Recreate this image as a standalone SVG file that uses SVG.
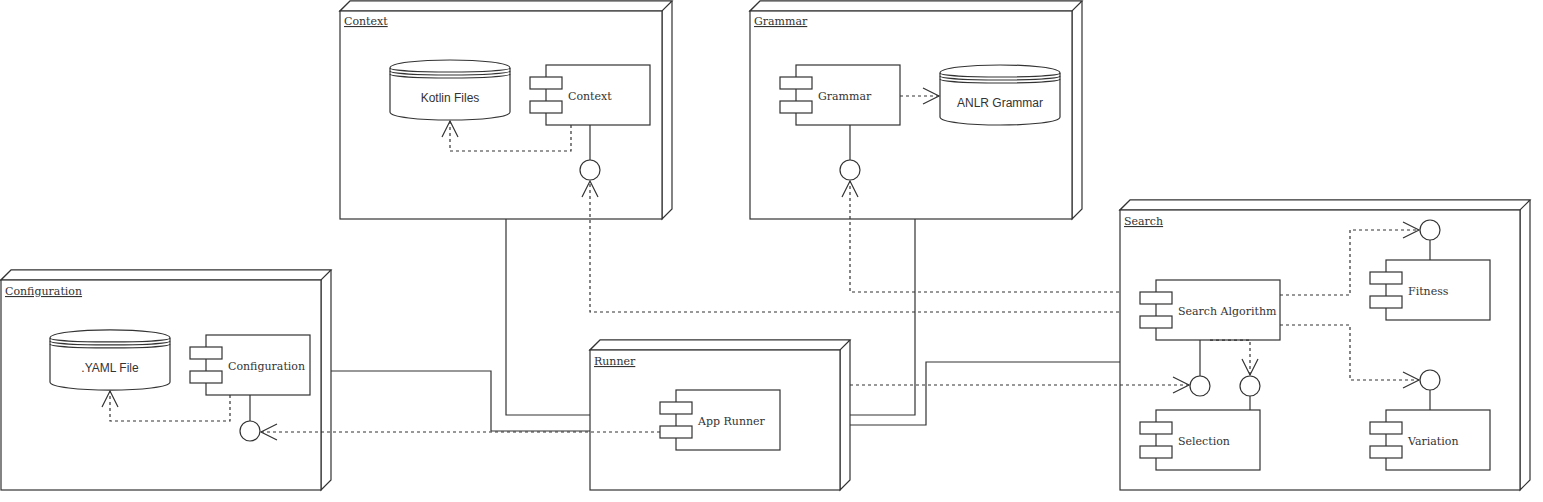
<svg xmlns="http://www.w3.org/2000/svg" width="1543" height="502" viewBox="0 0 1543 502">
<style>
.nd{fill:#fff;stroke:#333;stroke-width:1.2}
.sh{fill:#fff;stroke:#333;stroke-width:1.2}
.ttl{font-family:"DejaVu Serif",serif;font-size:11px;fill:#333;text-decoration:underline}
.lbl{font-family:"DejaVu Serif",serif;font-size:11px;fill:#333}
.dsl{font-family:"Liberation Sans",Arial,sans-serif;font-size:12px;fill:#333;text-anchor:middle}
.ln{fill:none;stroke:#333;stroke-width:1.2}
.ds{fill:none;stroke:#333;stroke-width:1.2;stroke-dasharray:3 3}
.ar{fill:none;stroke:#333;stroke-width:1.2;marker-end:url(#open)}
</style>
<defs>
<marker id="open" markerUnits="userSpaceOnUse" viewBox="-18 -10 20 20" refX="0" refY="0" markerWidth="20" markerHeight="20" orient="auto">
<path d="M-16,-8 L0,0 L-16,8" fill="none" stroke="#333" stroke-width="1.2"/>
</marker>
</defs>
<rect width="1543" height="502" fill="#fff"/>

<!-- containers -->
<g id="node-context">
<path class="nd" d="M340,11 L350,1 H672 V209 L662,219 V11 Z"/>
<path class="nd" d="M340,11 L350,1 H672 L662,11 Z"/>
<rect class="nd" x="340" y="11" width="322" height="208"/>
<text class="ttl" x="344" y="25">Context</text>
</g>
<g id="node-grammar">
<path class="nd" d="M750,11 L760,1 H1082 V209 L1072,219 V11 Z"/>
<path class="nd" d="M750,11 L760,1 H1082 L1072,11 Z"/>
<rect class="nd" x="750" y="11" width="322" height="208"/>
<text class="ttl" x="754" y="25">Grammar</text>
</g>
<g id="node-configuration">
<path class="nd" d="M1,280 L11,270 H331 V480 L321,490 V280 Z"/>
<path class="nd" d="M1,280 L11,270 H331 L321,280 Z"/>
<rect class="nd" x="1" y="280" width="320" height="210"/>
<text class="ttl" x="5" y="295">Configuration</text>
</g>
<g id="node-runner">
<path class="nd" d="M590,350 L600,340 H850 V480 L840,490 V350 Z"/>
<path class="nd" d="M590,350 L600,340 H850 L840,350 Z"/>
<rect class="nd" x="590" y="350" width="250" height="140"/>
<text class="ttl" x="594" y="365">Runner</text>
</g>
<g id="node-search">
<path class="nd" d="M1120,210 L1130,200 H1530 V480 L1520,490 V210 Z"/>
<path class="nd" d="M1120,210 L1130,200 H1530 L1520,210 Z"/>
<rect class="nd" x="1120" y="210" width="400" height="280"/>
<text class="ttl" x="1124" y="225">Search</text>
</g>

<!-- connectors -->
<g id="connectors">
<path class="ln" d="M331,371 H491 V431 H590"/>
<path class="ln" d="M506,219 V415 H590"/>
<path class="ln" d="M915,219 V415 H850"/>
<path class="ln" d="M850,425 H926 V362 H1120"/>
<path class="ln" d="M590,125 V160"/>
<path class="ln" d="M850,125 V160"/>
<path class="ln" d="M250,395 V421"/>
<path class="ln" d="M1200,340 V376"/>
<path class="ln" d="M1250,396 V410"/>
<path class="ln" d="M1430,240 V260"/>
<path class="ln" d="M1430,390 V410"/>
<path class="ds ar" d="M571,125 V151 H450 V121"/>
<path class="ds ar" d="M1119,312 H590 V181"/>
<path class="ds ar" d="M1119,292 H850 V181"/>
<path class="ds ar" d="M900,96 H939"/>
<path class="ds ar" d="M230,395 V421 H110 V391"/>
<path class="ds ar" d="M660,432 H261"/>
<path class="ds ar" d="M850,385 H1189"/>
<path class="ds ar" d="M1280,295 H1350 V230 H1419"/>
<path class="ds ar" d="M1280,325 H1350 V380 H1419"/>
<path class="ds ar" d="M1210,340 H1250 V375"/>
<circle class="sh" cx="590" cy="170" r="10"/>
<circle class="sh" cx="850" cy="170" r="10"/>
<circle class="sh" cx="250" cy="431" r="10"/>
<circle class="sh" cx="1200" cy="386" r="10"/>
<circle class="sh" cx="1250" cy="386" r="10"/>
<circle class="sh" cx="1430" cy="230" r="10"/>
<circle class="sh" cx="1430" cy="380" r="10"/>
</g>

<!-- datastores -->
<g id="kotlin-files">
<path class="sh" d="M390,68 C390,57.3 510,57.3 510,68 V112 C510,122.7 390,122.7 390,112 Z"/>
<path class="ln" d="M390,68 C390,73.3 510,73.3 510,68 M390,71 C390,76.3 510,76.3 510,71 M390,74 C390,79.3 510,79.3 510,74"/>
<text class="dsl" x="450" y="102">Kotlin Files</text>
</g>
<g id="anlr-grammar">
<path class="sh" d="M940,73 C940,62.3 1060,62.3 1060,73 V117 C1060,127.7 940,127.7 940,117 Z"/>
<path class="ln" d="M940,73 C940,78.3 1060,78.3 1060,73 M940,76 C940,81.3 1060,81.3 1060,76 M940,79 C940,84.3 1060,84.3 1060,79"/>
<text class="dsl" x="1000" y="107">ANLR Grammar</text>
</g>
<g id="yaml-file">
<path class="sh" d="M50,338 C50,327.3 170,327.3 170,338 V382 C170,392.7 50,392.7 50,382 Z"/>
<path class="ln" d="M50,338 C50,343.3 170,343.3 170,338 M50,341 C50,346.3 170,346.3 170,341 M50,344 C50,349.3 170,349.3 170,344"/>
<text class="dsl" x="110" y="372">.YAML File</text>
</g>

<!-- components -->
<g id="comp-context">
<rect class="sh" x="546" y="65" width="104" height="60"/>
<rect class="sh" x="530" y="77" width="32" height="12"/>
<rect class="sh" x="530" y="101" width="32" height="12"/>
<text class="lbl" x="568" y="100">Context</text>
</g>
<g id="comp-grammar">
<rect class="sh" x="796" y="65" width="104" height="60"/>
<rect class="sh" x="780" y="77" width="32" height="12"/>
<rect class="sh" x="780" y="101" width="32" height="12"/>
<text class="lbl" x="818" y="100">Grammar</text>
</g>
<g id="comp-configuration">
<rect class="sh" x="206" y="335" width="104" height="60"/>
<rect class="sh" x="190" y="347" width="32" height="12"/>
<rect class="sh" x="190" y="371" width="32" height="12"/>
<text class="lbl" x="228" y="370">Configuration</text>
</g>
<g id="comp-app-runner">
<rect class="sh" x="676" y="390" width="104" height="60"/>
<rect class="sh" x="660" y="402" width="32" height="12"/>
<rect class="sh" x="660" y="426" width="32" height="12"/>
<text class="lbl" x="698" y="425">App Runner</text>
</g>
<g id="comp-search-algorithm">
<rect class="sh" x="1156" y="280" width="124" height="60"/>
<rect class="sh" x="1140" y="292" width="32" height="12"/>
<rect class="sh" x="1140" y="316" width="32" height="12"/>
<text class="lbl" x="1178" y="315">Search Algorithm</text>
</g>
<g id="comp-fitness">
<rect class="sh" x="1386" y="260" width="104" height="60"/>
<rect class="sh" x="1370" y="272" width="32" height="12"/>
<rect class="sh" x="1370" y="296" width="32" height="12"/>
<text class="lbl" x="1408" y="295">Fitness</text>
</g>
<g id="comp-selection">
<rect class="sh" x="1156" y="410" width="104" height="60"/>
<rect class="sh" x="1140" y="422" width="32" height="12"/>
<rect class="sh" x="1140" y="446" width="32" height="12"/>
<text class="lbl" x="1178" y="445">Selection</text>
</g>
<g id="comp-variation">
<rect class="sh" x="1386" y="410" width="104" height="60"/>
<rect class="sh" x="1370" y="422" width="32" height="12"/>
<rect class="sh" x="1370" y="446" width="32" height="12"/>
<text class="lbl" x="1408" y="445">Variation</text>
</g>
<!-- dashed overlay along Search Algorithm bottom -->
<path class="ds" d="M1210,340 H1250"/>
</svg>
